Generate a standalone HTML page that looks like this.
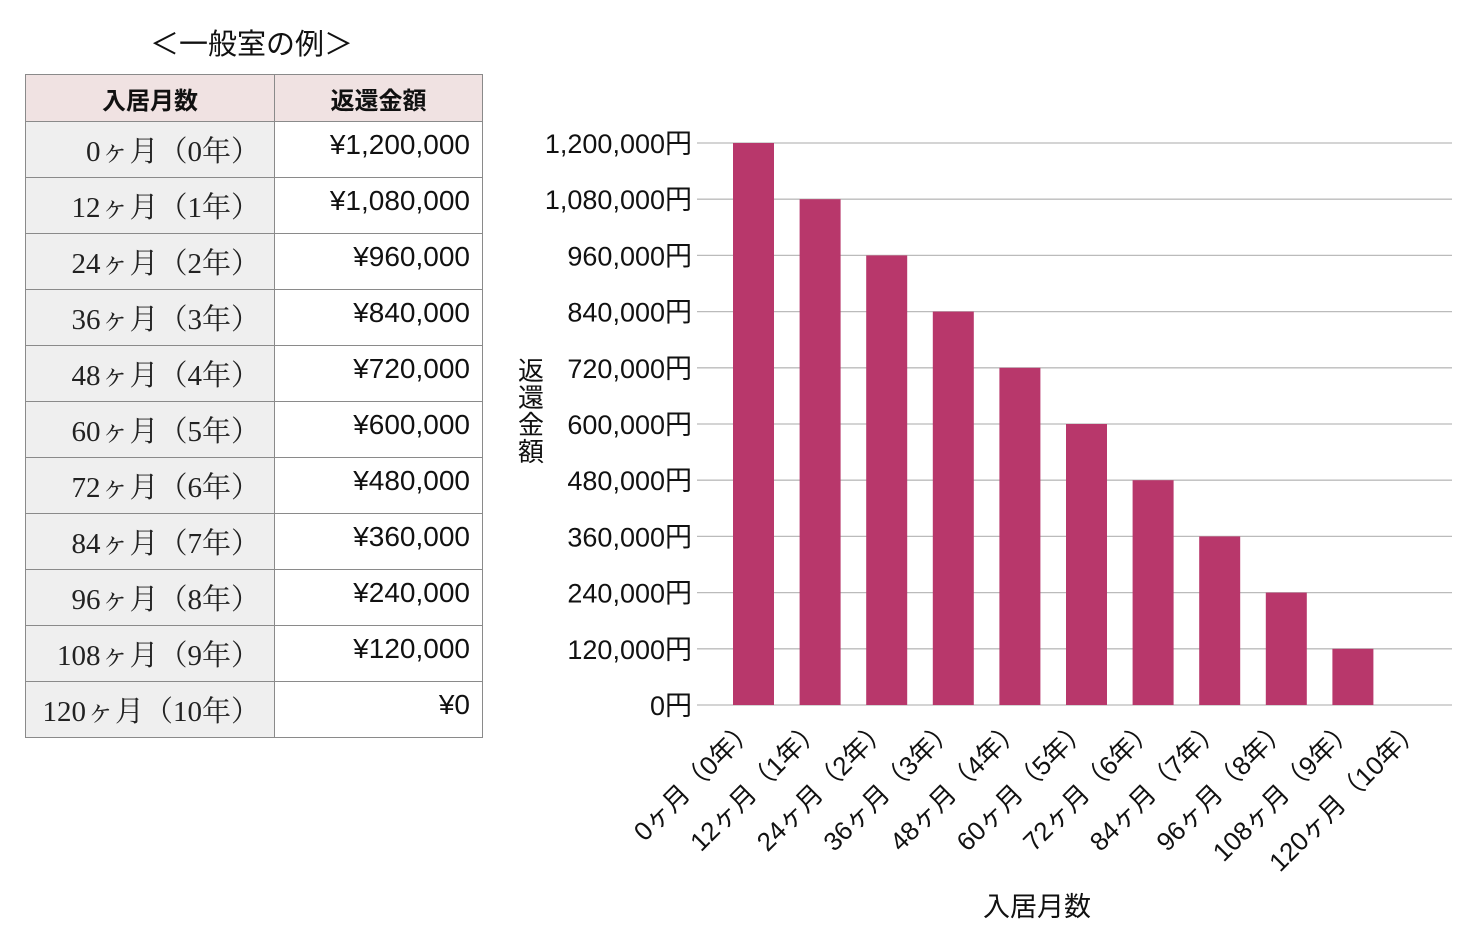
<!DOCTYPE html>
<html><head><meta charset="utf-8"><style>
body{margin:0;background:#fff;width:1480px;height:932px;overflow:hidden;font-family:"Liberation Sans","Noto Sans CJK JP",sans-serif}
.t{position:absolute;left:25px;top:74px;border-collapse:collapse;table-layout:fixed;width:457px}
.t td{border:1px solid #8a8a8a;padding:0;box-sizing:border-box}
.t tr{height:56px}
.t tr.h{height:47px}
.t th{border:1px solid #8a8a8a;background:#f0e2e2;font-size:24px;font-weight:bold;color:#111;padding:0}
.l{width:249px;background:#efefef;text-align:right;padding-right:14px!important;font-family:"Liberation Serif","Noto Serif CJK SC",serif;font-size:29px;color:#222}
.r{text-align:right;vertical-align:top;padding:7px 12px 0 0!important;font-size:28px;color:#111}
</style></head><body>
<div style="position:absolute;left:150px;top:21px;font-size:29px;color:#111">＜一般室の例＞</div>
<table class="t">
<colgroup><col style="width:249px"><col style="width:208px"></colgroup>
<tr class="h"><th>入居月数</th><th>返還金額</th></tr>
<tr><td class="l">0ヶ月（0年）</td><td class="r">¥1,200,000</td></tr>
<tr><td class="l">12ヶ月（1年）</td><td class="r">¥1,080,000</td></tr>
<tr><td class="l">24ヶ月（2年）</td><td class="r">¥960,000</td></tr>
<tr><td class="l">36ヶ月（3年）</td><td class="r">¥840,000</td></tr>
<tr><td class="l">48ヶ月（4年）</td><td class="r">¥720,000</td></tr>
<tr><td class="l">60ヶ月（5年）</td><td class="r">¥600,000</td></tr>
<tr><td class="l">72ヶ月（6年）</td><td class="r">¥480,000</td></tr>
<tr><td class="l">84ヶ月（7年）</td><td class="r">¥360,000</td></tr>
<tr><td class="l">96ヶ月（8年）</td><td class="r">¥240,000</td></tr>
<tr><td class="l">108ヶ月（9年）</td><td class="r">¥120,000</td></tr>
<tr><td class="l">120ヶ月（10年）</td><td class="r">¥0</td></tr>
</table>
<svg width="1480" height="932" style="position:absolute;left:0;top:0" font-family="Liberation Sans, Noto Sans CJK JP, sans-serif">
<g id="g"></g>
</svg>
<script>
const g=document.getElementById('g');let s='';
const vals=[1200000,1080000,960000,840000,720000,600000,480000,360000,240000,120000,0];
for(let i=0;i<=10;i++){const y=705-i*56.2;
s+=`<line x1="697" x2="1452" y1="${y}" y2="${y}" stroke="#bbb" stroke-width="1.3"/>`;
s+=`<text x="692" y="${y+10}" text-anchor="end" font-size="27" fill="#111">${(i*120000).toLocaleString('en-US')}円</text>`;}
const labs=['0ヶ月（0年）','12ヶ月（1年）','24ヶ月（2年）','36ヶ月（3年）','48ヶ月（4年）','60ヶ月（5年）','72ヶ月（6年）','84ヶ月（7年）','96ヶ月（8年）','108ヶ月（9年）','120ヶ月（10年）'];
for(let i=0;i<11;i++){const x=733+i*66.6,h=vals[i]/120000*56.2;
if(h>0)s+=`<rect x="${x}" y="${705-h}" width="41" height="${h}" fill="#b8376b"/>`;
const cx=x+24,cy=730;
s+=`<text transform="translate(${cx},${cy}) rotate(-45)" text-anchor="end" font-size="26" fill="#111">${labs[i]}</text>`;}
s+=`<text x="1037" y="916" text-anchor="middle" font-size="27" fill="#111">入居月数</text>`;
['返','還','金','額'].forEach((c,k)=>{s+=`<text x="531" y="${380+k*27}" text-anchor="middle" font-size="26" fill="#111">${c}</text>`});
g.innerHTML=s;
</script>
</body></html>
